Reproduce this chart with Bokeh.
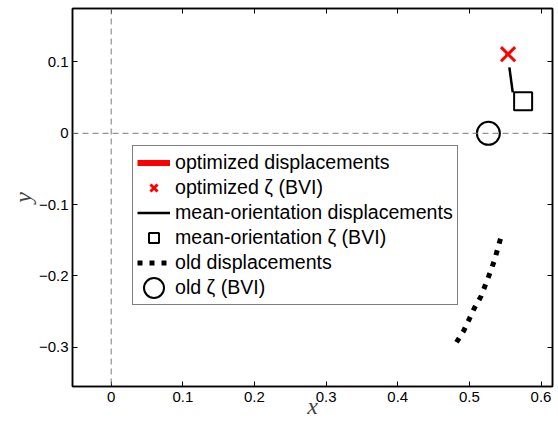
from bokeh.plotting import figure
from bokeh.models import (Range1d, LinearAxis, FixedTicker, CustomJSTickFormatter,
                          Span, Legend, LegendItem, CustomLabelingPolicy)
from bokeh.embed import file_html
from bokeh.resources import INLINE

# ---- data ----
opt_disp_x = [0.5535, 0.5545]
opt_disp_y = [0.1125, 0.1105]
opt_zeta_x = [0.554]
opt_zeta_y = [0.111]

mean_disp_x = [0.5558, 0.5605]
mean_disp_y = [0.0924, 0.0574]
mean_zeta_x = [0.575]
mean_zeta_y = [0.0448]

old_disp_x = [0.482, 0.492, 0.507, 0.516, 0.529, 0.535, 0.545]
old_disp_y = [-0.293, -0.277, -0.245, -0.229, -0.195, -0.178, -0.142]
old_zeta_x = [0.5265]
old_zeta_y = [0.0]

x_ticks = [0, 0.1, 0.2, 0.3, 0.4, 0.5, 0.6]
y_ticks = [-0.3, -0.2, -0.1, 0, 0.1]

labels = ["optimized displacements", "optimized \u03b6 (BVI)",
          "mean-orientation displacements", "mean-orientation \u03b6 (BVI)",
          "old displacements", "old \u03b6 (BVI)"]

TICK_FONT = "Liberation Sans"
fmt = CustomJSTickFormatter(code="""
if (Math.abs(tick) < 1e-9) return '0';
return tick.toFixed(1).replace('-', '\u2212');
""")

no_labels = CustomLabelingPolicy(code="""
try {
  const out = new indices.constructor(indices.size);
  return out;
} catch (e) {
  try {
    for (let i = 0; i < indices.size; i++) { indices.unset(i); }
  } catch (e2) {}
  return indices;
}
""")

p = figure(width=558, height=422, output_backend="svg", toolbar_location=None,
           x_range=Range1d(-0.054, 0.616), y_range=Range1d(-0.355, 0.175),
           min_border_left=72, min_border_right=6, min_border_top=8, min_border_bottom=36,
           x_axis_location=None, y_axis_location=None)
p.grid.visible = False
p.outline_line_color = "black"
p.outline_line_width = 1.5
p.background_fill_color = "white"
p.border_fill_color = "white"

def make_axis(labels_on):
    ax = LinearAxis()
    ax.axis_line_color = "black"
    ax.axis_line_width = 1.5
    ax.major_tick_in = 5
    ax.major_tick_out = 0
    ax.minor_tick_in = 0
    ax.minor_tick_out = 0
    ax.major_tick_line_color = "black"
    ax.major_tick_line_width = 1
    ax.formatter = fmt
    if labels_on:
        ax.major_label_text_font = TICK_FONT
        ax.major_label_text_font_size = "15px"
        ax.major_label_text_color = "black"
        ax.major_label_standoff = 4
    else:
        ax.major_label_policy = no_labels
        ax.major_label_text_font_size = "0px"
        ax.major_label_standoff = 0
    return ax

xb = make_axis(True)
xb.major_label_standoff = 5
xb.ticker = FixedTicker(ticks=x_ticks)
xb.axis_label = "x"
xb.axis_label_text_font = "Liberation Serif"
xb.axis_label_text_font_style = "italic"
xb.axis_label_text_font_size = "24px"
xb.axis_label_standoff = -12
p.add_layout(xb, "below")

yl = make_axis(True)
yl.major_label_standoff = 4
yl.ticker = FixedTicker(ticks=y_ticks)
yl.axis_label = "y"
yl.axis_label_text_font = "Liberation Serif"
yl.axis_label_text_font_style = "italic"
yl.axis_label_text_font_size = "24px"
yl.axis_label_standoff = 0
p.add_layout(yl, "left")

xt = make_axis(False)
xt.ticker = FixedTicker(ticks=x_ticks)
p.add_layout(xt, "above")

yr = make_axis(False)
yr.ticker = FixedTicker(ticks=y_ticks)
p.add_layout(yr, "right")

# reference dashed lines
for dim in ("width", "height"):
    p.add_layout(Span(location=0, dimension=dim, line_color="#7a7a7a",
                      line_width=1, line_dash="6 4"))

r1 = p.line(opt_disp_x, opt_disp_y, line_color="red", line_width=6)
r2 = p.scatter(opt_zeta_x, opt_zeta_y, marker="x", size=20, line_color="red",
               line_width=3)
r3 = p.line(mean_disp_x, mean_disp_y, line_color="black", line_width=2.5)
r4 = p.scatter(mean_zeta_x, mean_zeta_y, marker="square", size=18, line_color="black",
               fill_color=None, line_width=2)
r5 = p.line(old_disp_x, old_disp_y, line_color="black", line_width=5, line_dash="5 7")
r6 = p.ellipse(old_zeta_x, old_zeta_y, width=23, height=23, width_units="screen",
               height_units="screen", line_color="black", fill_color=None, line_width=2)

items = [LegendItem(label=l, renderers=[r]) for l, r in
         zip(labels, [r1, r2, r3, r4, r5, r6])]
leg = Legend(items=items, location=(60, 81))
leg.label_text_font = TICK_FONT
leg.label_text_font_size = "19.6px"
leg.label_text_color = "black"
leg.label_standoff = 5
leg.label_height = 20
leg.glyph_width = 33
leg.glyph_height = 25
leg.spacing = 0
leg.padding = 4
leg.margin = 0
leg.border_line_color = "black"
leg.border_line_width = 1.5
leg.background_fill_alpha = 1
p.add_layout(leg, "center")

open("out.html", "w").write(file_html(p, INLINE))
